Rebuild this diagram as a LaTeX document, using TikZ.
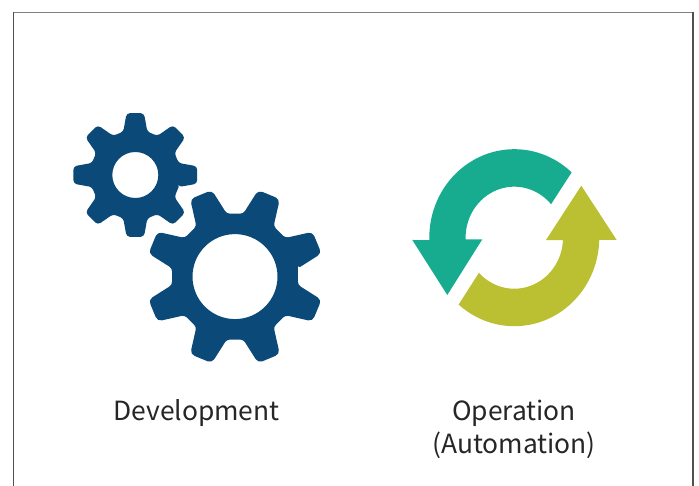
\documentclass[tikz,border=0pt]{standalone}
\usepackage{fontspec}
\setmainfont{Noto Sans CJK JP}
\definecolor{gearblue}{HTML}{0B4A78}
\definecolor{teal}{HTML}{17AC8F}
\definecolor{olive}{HTML}{BBC033}
\definecolor{framegray}{HTML}{808080}
\definecolor{framedark}{HTML}{505050}
\tikzset{
  label text/.style={font=\fontsize{26.4pt}{33pt}\selectfont, text=black!85, align=center, inner sep=0pt, anchor=base},
  frame line/.style={draw=framegray, line width=1.3pt},
  frame side/.style={draw=framedark, line width=1.2pt},
}
% #1 cx, #2 cy, #3 tip r, #4 root r, #5 tip half angle, #6 root half angle, #7 first tooth angle, #8 hole r, #9 tip corner
\newcommand{\mygear}[9]{%
  \fill[gearblue, even odd rule]
    ({#1+#4*cos(#7-#6)},{#2-#4*sin(#7-#6)})
    \foreach \k in {0,...,7}{
      [rounded corners=3pt] -- ({#1+#4*cos(#7+45*\k-#6)},{#2-#4*sin(#7+45*\k-#6)})
      [rounded corners=#9pt] -- ({#1+#3*cos(#7+45*\k-#5)},{#2-#3*sin(#7+45*\k-#5)})
      -- ({#1+#3*cos(#7+45*\k+#5)},{#2-#3*sin(#7+45*\k+#5)})
      [rounded corners=3pt] -- ({#1+#4*cos(#7+45*\k+#6)},{#2-#4*sin(#7+45*\k+#6)})
    } -- cycle
    [sharp corners] (#1,#2) ellipse [x radius=#8, y radius=#8];
}
\begin{document}
\begin{tikzpicture}[x=1pt,y=-1pt]
\useasboundingbox (0,0) rectangle (699,486);
\draw[frame line] (13.5,12.5) -- (693,12.5);
\draw[frame side] (13.5,486) -- (13.5,12);
\draw[frame side] (693,12) -- (693,486);
\mygear{135.3}{175}{62.5}{45}{8}{15.5}{0}{23}{3.5}
\mygear{235}{276.6}{89.5}{63.5}{7.5}{15}{22.5}{42.5}{4.5}
\fill[teal]
  (571.7,172.3)
  -- plot[domain=-47.7:-181.5,samples=70] ({514.3+85*cos(\x)},{237.7+88.5*sin(\x)})
  -- (412.3,240) -- (447.3,295) -- (482.3,239.3) -- (465.7,239.3)
  -- plot[domain=-182:-41,samples=70] ({514.3+48.7*cos(\x)},{237.7+51*sin(\x)})
  -- cycle;
\fill[olive]
  (459,304)
  -- (479,272.7)
  -- plot[domain=136:2.7,samples=70] ({514.3+48.7*cos(\x)},{237.7+51*sin(\x)})
  -- (546,240) -- (581.3,185.7) -- (616.7,240) -- (599.3,240)
  -- plot[domain=1.5:131,samples=70] ({514.3+85*cos(\x)},{237.7+88.5*sin(\x)})
  -- cycle;
\node[label text] (dev) at (196.5,420) {Development};
\node[label text] (op) at (514,420) {Operation};
\node[label text] (auto) at (514,453) {(Automation)};
\end{tikzpicture}
\end{document}
